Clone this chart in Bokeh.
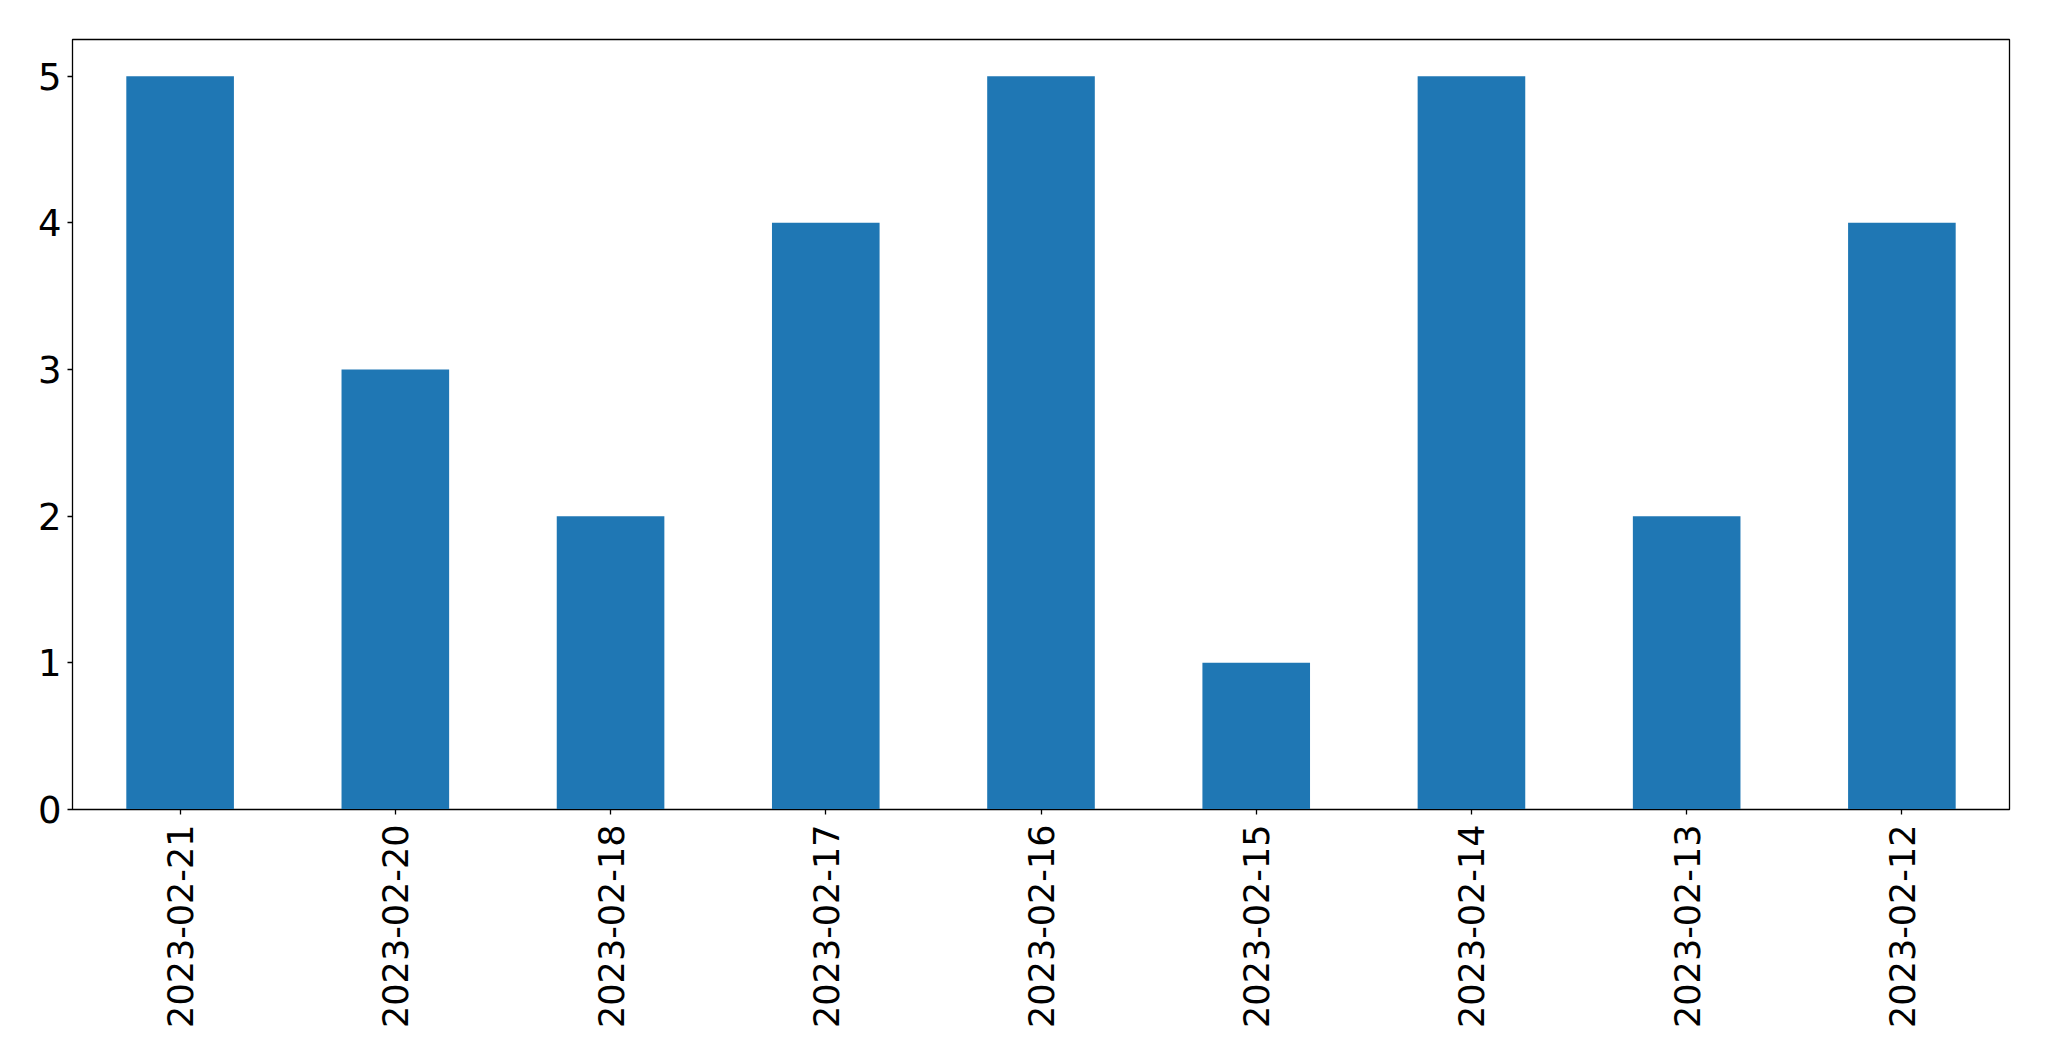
import math
from bokeh.plotting import figure
from bokeh.models import FixedTicker, FactorRange, Range1d
from bokeh.embed import file_html
from bokeh.resources import INLINE

dates = ["2023-02-21", "2023-02-20", "2023-02-18", "2023-02-17", "2023-02-16",
         "2023-02-15", "2023-02-14", "2023-02-13", "2023-02-12"]
counts = [5, 3, 2, 4, 5, 1, 5, 2, 4]
y_ticks = [0, 1, 2, 3, 4, 5]

p = figure(x_range=FactorRange(factors=dates, range_padding=0),
           y_range=Range1d(0, 5.25),
           frame_width=1937, frame_height=770,
           min_border_left=72, min_border_top=39, min_border_right=40, min_border_bottom=252,
           output_backend="svg", toolbar_location=None, tools="")

p.vbar(x=dates, top=counts, width=0.5, color="#1f77b4", line_color=None)

p.xgrid.visible = False
p.ygrid.visible = False
p.outline_line_color = "black"
p.outline_line_width = 1.3
p.outline_line_alpha = 1

for ax in (p.xaxis, p.yaxis):
    ax.axis_line_color = "black"
    ax.major_tick_line_color = "black"
    ax.major_tick_line_width = 1.3
    ax.major_tick_out = 5
    ax.major_tick_in = 0
    ax.minor_tick_line_color = None
    ax.major_label_text_font = "DejaVu Sans"
    ax.major_label_text_color = "black"

p.yaxis.major_label_text_font_size = "37px"
p.xaxis.major_label_text_font_size = "35px"
p.yaxis.ticker = FixedTicker(ticks=y_ticks)
p.yaxis.major_label_standoff = 6
p.xaxis.major_label_orientation = math.pi / 2
p.xaxis.major_label_standoff = 10

open("out.html", "w").write(file_html(p, INLINE))
